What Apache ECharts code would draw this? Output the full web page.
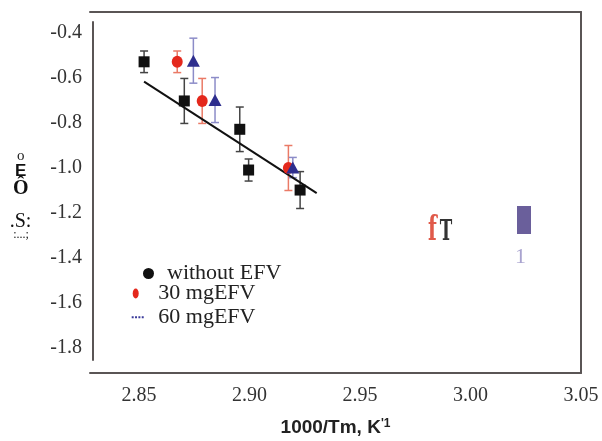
<!DOCTYPE html>
<html>
<head>
<meta charset="utf-8">
<script src="https://cdn.jsdelivr.net/npm/echarts@6/dist/echarts.min.js"></script>
<style>
html,body{margin:0;padding:0;background:#fff;}
#chart{width:602px;height:441px;}
</style>
</head>
<body>
<div id="chart"></div>
<script>
// ---- data ----
const seriesNames = ['without EFV', '30 mgEFV', '60 mgEFV'];
const blackX = [2.8523, 2.8705, 2.8956, 2.8996, 2.9229];
const blackY = [-0.528, -0.702, -0.828, -1.009, -1.098];
const blackErr = [0.048, 0.100, 0.099, 0.049, 0.082];
const redX = [2.8673, 2.8786, 2.9176];
const redY = [-0.528, -0.702, -1.000];
const redErr = [0.048, 0.100, 0.100];
const blueX = [2.8746, 2.8844, 2.9196];
const blueY = [-0.523, -0.698, -0.998];
const blueErr = [0.100, 0.100, 0.045];
const fitX = [2.8523, 2.9304];
const fitY = [-0.616, -1.112];
const xTicks = [2.85, 2.90, 2.95, 3.00, 3.05];
const yTicks = [-0.4, -0.6, -0.8, -1.0, -1.2, -1.4, -1.6, -1.8];
const xTitle = "1000/Tm, K";
const xTitleSup = "'1";

function pts(xs, ys) { return xs.map((x, i) => [x, ys[i]]); }
function errPts(xs, ys, es) { return xs.map((x, i) => [x, ys[i], es[i]]); }

function errRender(params, api) {
  const x = api.value(0), y = api.value(1), e = api.value(2);
  const top = api.coord([x, y + e]);
  const bot = api.coord([x, y - e]);
  const hw = 4;
  const st = { stroke: api.visual('color'), lineWidth: 1.5 };
  return {
    type: 'group',
    children: [
      { type: 'line', shape: { x1: top[0], y1: top[1], x2: bot[0], y2: bot[1] }, style: st },
      { type: 'line', shape: { x1: top[0] - hw, y1: top[1], x2: top[0] + hw, y2: top[1] }, style: st },
      { type: 'line', shape: { x1: bot[0] - hw, y1: bot[1], x2: bot[0] + hw, y2: bot[1] }, style: st }
    ]
  };
}

const axisColor = '#5a5555';
const serif = 'Liberation Serif';

const legendText = (pad) => ({
  fontFamily: serif, fontSize: 22, color: '#222', lineHeight: 24, padding: [0, 0, 0, pad]
});

const option = {
  backgroundColor: '#fff',
  animation: false,
  grid: [
    { left: 90, right: 21, top: 12, bottom: 68, containLabel: false, outerBoundsMode: 'none' },
    { left: 93, right: 21, top: 22, bottom: 81, containLabel: false, outerBoundsMode: 'none' }
  ],
  xAxis: [
    {
      type: 'value', gridIndex: 0, position: 'bottom',
      min: 2.82783, max: 3.05,
      axisLine: { show: true, lineStyle: { color: axisColor, width: 2 } },
      axisTick: { show: false },
      splitLine: { show: false },
      axisLabel: {
        customValues: xTicks, margin: 13,
        fontFamily: serif, fontSize: 20, color: '#333',
        formatter: v => v.toFixed(2)
      },
      name: xTitle + '{s|' + xTitleSup + '}',
      nameLocation: 'middle', nameGap: 45,
      nameTextStyle: {
        fontFamily: 'Liberation Sans', fontWeight: 'bold', fontSize: 19, color: '#222',
        rich: { s: { fontFamily: 'Liberation Sans', fontWeight: 'bold', fontSize: 12, color: '#222', padding: [0, 0, 7, 0] } }
      }
    },
    {
      type: 'value', gridIndex: 0, position: 'top',
      min: 2.82783, max: 3.05,
      axisLine: { show: true, onZero: false, lineStyle: { color: axisColor, width: 2 } },
      axisTick: { show: false }, axisLabel: { show: false }, splitLine: { show: false }
    },
    {
      type: 'value', gridIndex: 1, show: false, min: 2.82783, max: 3.05
    }
  ],
  yAxis: [
    {
      type: 'value', gridIndex: 0, position: 'left',
      min: -1.91111, max: -0.30667,
      axisLine: { show: false }, axisTick: { show: false },
      axisLabel: { show: false }, splitLine: { show: false }
    },
    {
      type: 'value', gridIndex: 0, position: 'right',
      min: -1.91111, max: -0.30667,
      axisLine: { show: true, onZero: false, lineStyle: { color: axisColor, width: 2 } },
      axisTick: { show: false }, axisLabel: { show: false }, splitLine: { show: false }
    },
    {
      type: 'value', gridIndex: 1, position: 'left',
      min: -1.85333, max: -0.35111,
      axisLine: { show: true, onZero: false, lineStyle: { color: axisColor, width: 2 } },
      axisTick: { show: false }, splitLine: { show: false },
      axisLabel: {
        customValues: yTicks, margin: 11, padding: [4, 0, 0, 0],
        fontFamily: serif, fontSize: 20, color: '#333',
        formatter: v => v.toFixed(1)
      }
    }
  ],
  legend: [
    {
      left: 143, top: 261.5, padding: 0, selectedMode: false, orient: 'vertical',
      itemWidth: 11, itemHeight: 11,
      data: [{ name: seriesNames[0], icon: 'circle', itemStyle: { color: '#111' } }],
      textStyle: legendText(8)
    },
    {
      left: 132.7, top: 281.5, padding: 0, selectedMode: false, orient: 'vertical',
      itemWidth: 6, itemHeight: 10,
      data: [{ name: seriesNames[1], icon: 'path://M0,5A3,5 0 1 1 6,5A3,5 0 1 1 0,5Z', itemStyle: { color: '#e4281c' } }],
      textStyle: legendText(14.6)
    },
    {
      left: 131.7, top: 305.3, padding: 0, selectedMode: false, orient: 'vertical',
      itemWidth: 12, itemHeight: 2,
      data: [{ name: seriesNames[2], icon: 'path://M0,0h2v2h-2zM3.4,0h2v2h-2zM6.8,0h2v2h-2zM10.2,0h2v2h-2z', itemStyle: { color: '#3a3a9a' } }],
      textStyle: legendText(9.6)
    }
  ],
  series: [
    {
      name: 'fit', type: 'line', xAxisIndex: 0, yAxisIndex: 0,
      data: pts(fitX, fitY), symbol: 'none',
      lineStyle: { color: '#111', width: 2 }, z: 3
    },
    {
      name: 'err0', type: 'custom', xAxisIndex: 0, yAxisIndex: 0,
      data: errPts(blackX, blackY, blackErr), renderItem: errRender,
      encode: { x: 0, y: 1 }, itemStyle: { color: '#444' }, z: 2
    },
    {
      name: 'err1', type: 'custom', xAxisIndex: 0, yAxisIndex: 0,
      data: errPts(redX, redY, redErr), renderItem: errRender,
      encode: { x: 0, y: 1 }, itemStyle: { color: '#ea7a66' }, z: 2
    },
    {
      name: 'err2', type: 'custom', xAxisIndex: 0, yAxisIndex: 0,
      data: errPts(blueX, blueY, blueErr), renderItem: errRender,
      encode: { x: 0, y: 1 }, itemStyle: { color: '#8c8cc8' }, z: 2
    },
    {
      name: seriesNames[0], type: 'scatter', xAxisIndex: 0, yAxisIndex: 0,
      data: pts(blackX, blackY), symbol: 'rect', symbolSize: 11,
      itemStyle: { color: '#111', opacity: 1 }, z: 4
    },
    {
      name: seriesNames[1], type: 'scatter', xAxisIndex: 0, yAxisIndex: 0,
      data: pts(redX, redY), symbol: 'circle', symbolSize: [11, 12],
      itemStyle: { color: '#e4281c', opacity: 1 }, z: 5
    },
    {
      name: seriesNames[2], type: 'scatter', xAxisIndex: 0, yAxisIndex: 0,
      data: pts(blueX, blueY), symbol: 'triangle', symbolSize: [13, 12],
      itemStyle: { color: '#2e2e8e', opacity: 1 }, z: 6
    }
  ],
  graphic: [
    { type: 'text', x: 20.7, y: 156, style: { text: 'o', font: '15px "Liberation Serif"', fill: '#222', align: 'center', verticalAlign: 'middle' } },
    { type: 'text', x: 20.7, y: 171.5, style: { text: 'E', font: 'bold 17px "Liberation Sans"', fill: '#111', align: 'center', verticalAlign: 'middle' } },
    { type: 'text', x: 20.7, y: 189, style: { text: 'Ô', font: 'bold 20px "Liberation Serif"', fill: '#111', align: 'center', verticalAlign: 'middle' } },
    { type: 'text', x: 20.5, y: 222, style: { text: '.S:', font: '20px "Liberation Serif"', fill: '#111', align: 'center', verticalAlign: 'middle' } },
    { type: 'text', x: 21, y: 235, style: { text: ':...;', font: '12px "Liberation Serif"', fill: '#111', align: 'center', verticalAlign: 'middle' } },
    { type: 'text', x: 432.5, y: 231, scaleX: 0.6, style: { text: 'f', font: 'bold 34px "DejaVu Serif"', fill: '#e05a4a', align: 'center', verticalAlign: 'middle' } },
    { type: 'text', x: 446, y: 233, scaleX: 0.6, style: { text: 'T', font: 'bold 28px "DejaVu Serif"', fill: '#333', align: 'center', verticalAlign: 'middle' } },
    { type: 'rect', shape: { x: 517, y: 206, width: 14, height: 28 }, style: { fill: '#6a5f9b' } },
    { type: 'text', x: 520.5, y: 257, style: { text: '1', font: '22px "Liberation Serif"', fill: '#a9a3cf', align: 'center', verticalAlign: 'middle' } }
  ]
};

const chart = echarts.init(document.getElementById('chart'), null, { renderer: 'canvas' });
chart.setOption(option);
</script>
</body>
</html>
